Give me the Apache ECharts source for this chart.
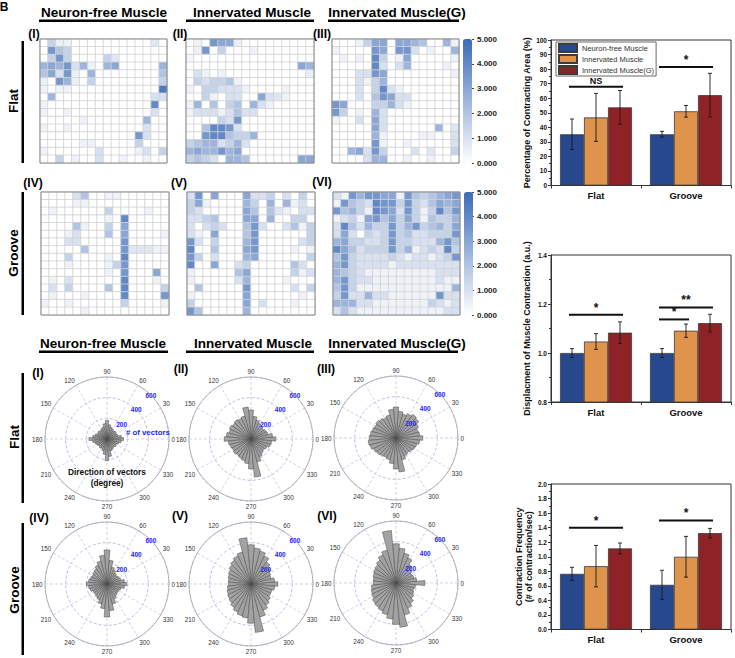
<!DOCTYPE html>
<html>
<head>
<meta charset="utf-8">
<script src="https://cdn.jsdelivr.net/npm/echarts@6/dist/echarts.min.js"></script>
<style>html,body{margin:0;padding:0;background:#fff}#main{width:735px;height:658px}</style>
</head>
<body>
<div id="main"></div>
<script>
// ---- heat maps: 16 x 16 contraction maps, row 0 is the top row ----
var heatFlatNF = [
  [0,1.5,0.5,0.4,0,0,0,0,0,0,0,0,0,0,0.8,0],
  [0,3.5,2,1.5,0,0,0,0,0,0,0,0,0,0,0,0],
  [0,1.5,3.5,1.5,0,0,0,0,1.5,0.8,0,0,0,0,0,0],
  [2.5,3,2.5,3.5,1,2.5,0.4,0,2.5,3,0,0,0,0,0,2.5],
  [2,3,1,3.5,0.5,0,2.5,0,0,0,0,0,0,0,0,2],
  [0.5,0,3.5,2.5,0.5,0,1.5,0,0,0,0,0,0,0,0,1.5],
  [0.4,0,0.4,0.4,0,0,0,0,0,0,0,0,0,0,0,4.5],
  [0,2.5,0,0,0,0,0,0,0,0,0,0,0,0,1,1],
  [0.4,0,0,0,0,0,0,0,0,0,0,0,0,0,4,0],
  [0.4,0,0,0.4,0,0,0,0,0,0,0,0,0,0,1,0],
  [0,0,0,0,0,0.4,0,0,0,0,0,0,0,2.5,0,0],
  [0.4,0,0,0.4,0,0,0,0,0,0,0,0,0,1,0,0],
  [0,0,0,0,0,0,0,0,0,0,0,0,3.5,1,0,0],
  [0,0,0,0,0,0.4,0.4,0,0,0,0,0,1.5,0,0,0],
  [0.4,0,0,0,0,0,0,1,0,0,0,0,0.4,1,0,1.5],
  [0,0,1.5,0,0.4,0,0,1,0,0,0.4,0,0,0.4,0,0]
];
var heatFlatIn = [
  [0,0.4,0,3.5,3,3,0.5,0,0,0,0,0,0,0,0,0],
  [0,0.4,3.5,0,1.5,0,0,0,0.4,0,0,0,0,0,0,0],
  [0.3,0,0,0,0,0,0,0,0,0,0,0,0,0,0,0],
  [0,0,0,0,0,0,0,0,0,0,0,0,0,0,3,2.5],
  [0,1,0.4,0,0.4,0,0,0,0,0,0,0,0,0,0,0.5],
  [0,1.5,1,1.5,1.5,2,0.4,0,0,0,0,0,0,0,0,0],
  [0.4,0,1.5,1.5,1,1,1,0.4,0,0,0,0,0.4,0,0,0],
  [0,0,1.5,0.4,0,1,1,0,0,3,1,0.8,0.4,0,0,0],
  [0.4,2.5,0,2,0,1.5,2,0,2.5,1,0.4,0,0,0,0,0],
  [0.4,1,1,1,0.4,1,2,1,1,0,0,0,0,0,0,0],
  [0,0,0,0,1.5,1,3.5,0,0,0,0,0,0,0,0,0],
  [0,0,2,4,4,3.5,1,0,0,0,0,0,0,0,0,0],
  [0,0,3.5,4,4,2,1.5,1.5,2.5,0,0,0,0,0,0,0],
  [1.5,2,2.5,2.5,1,1.5,2.5,1,0,0,0,0,0,0,0,0],
  [2.5,3,2.5,2.5,3.5,2.5,3,0,0,0,0,0,0,0,0,0],
  [1.5,2,1.5,1,0,2.5,2.5,2,0,0,0,0,0,0,3,3]
];
var heatFlatInG = [
  [0,0,0,0.4,1.5,3,3,0,3,3,2.5,2,0,0,2.5,0.4],
  [0.4,0,0,0,0,3.5,3,0,3.5,3.5,1,0,0.4,0,0,2.5],
  [0,0.4,0,0.4,0,4,1.5,0,0.4,3,0,0,0,0,0,0.4],
  [0,0,0,0,0,4,1,0,1,2.5,0,0,0,0,0.4,0],
  [0,0,0,1,1,3.5,3,0,0,0,0,0,0,0,0,0.4],
  [0,0,0,1,0.4,1.5,2.5,0,0,0,0,0,0,0,0,0],
  [0,0,0,1,0,1.5,4,1,0.4,0,0,0,0,0,0,0],
  [0,0,0,1,0,2,3.5,3,1,1,0,0,0,0,0,0],
  [3.5,3,0,0,0,1.5,1.5,2.5,1,0.4,0,0,0,0,0,0],
  [3.5,1.5,0,0.4,0,2.5,1,0,0,0,0,0,0,0,0,0],
  [0.4,0,0,1,0,3,1,0,0,0,0,0,0,0,0,0],
  [0,0,0,0,0,3,1,0,0,0,0,0,0,2.5,0,0.8],
  [0,0,0,0,0,2.5,0.4,0,0,0,0,0.4,0.4,0,0,1],
  [0,0,0,0,0,3.5,0.4,0,0,0.4,0,0,0,0,0,1],
  [0,0,2.5,3,1,3.5,1.5,0,0,0,1,0,0.8,0,0,1.5],
  [0,0,0,0,1,2.5,2.5,0,0,0.4,0,0,0.4,0,0,0]
];
var heatGrooveNF = [
  [0,0,0,0,1,2,0,0,0.4,0.4,0,0,0,0,0,0],
  [0,0,0,0,0.4,0.4,0,0,0,0,0,0,0,0,0,0],
  [0,0.4,0,0,0,0,0,0,1.5,0,0,0,0,0.4,0,0],
  [0,0,0,0,0,0,0,0,0.4,0,4,0,0,0,0,0],
  [0,0,0,0,2,0.4,0,0,1.5,0,3,0,0,0,0,0],
  [0,0,0,0.4,1,0,0,0,2,0,3,0,0,0,0,0.4],
  [0,0,0,1,1,0,0,0,0,0,3.5,0,0,0,0,0],
  [0,0,0,0,0,2,0,0,0,0,3.5,0.8,0.8,0.8,0.4,0.4],
  [0,0,0,1.5,0,0,0,0,0.4,0,4,0,0,0,0,0],
  [0,0,0,0.4,0,0,0,0,0.4,1.5,3.5,0,0,0,0,0],
  [0,0,0,0,0,0,0,0,0.4,0,3.5,0,0,0,3,0],
  [0,0.4,0,1,0,0,0,0,0,0,4,0,0,0,0.4,0],
  [0,1,0,1.5,0,0,0,0,2,0,4,0,0,0,0,1.5],
  [0,0.4,0,0,0,0.4,0,0,0,0,4,0,0,0,0,3.5],
  [0.4,0,0,0.4,0,0,0,0,0,0,1.5,0,0,0,0,0.4],
  [0,0,0,0,0,0.4,0,0,0,0,0,0,0,0,0,0]
];
var heatGrooveIn = [
  [1,3.5,0,3,0,0,0,3,1,1,1.5,0,1,0,1.5,0],
  [1.5,3,0.4,0,0,0,0,2.5,1.5,0,2.5,0,2.5,0.4,1,0],
  [1.5,1,0,0,0,0,0,3,2,0,2,0.8,0.4,0,1,1],
  [1,1,1.5,2,0,0,0,3,3,0,2.5,0,0,1.5,1.5,0],
  [1,0,1,1.5,1,0,0,2,3.5,1,0,0,1,2,0.4,1.5],
  [1,0.4,0,3,0,0,0,2,3.5,0,0,0,0,0,0,1.5],
  [3.5,1,0,1.5,0,0,0,2.5,3.5,0,0,0,0,0,1,1.5],
  [4,0,0,2,0,0,0,3,3.5,0,0,0,0,0.4,0,0.4],
  [3.5,1.5,0,1,0,0,0,2.5,3,0,0,0,0,0,0,1.5],
  [4,0,0,3,0,0,1,1.5,0,0,0,0,0,2,1,0],
  [0.4,0,0,0,0,0,2,3,0,0,0,0,0,1.5,0.4,1],
  [0.4,0,0,0,0,0,1,2.5,0,0,0,0,0.4,0,0,0],
  [0,2,0,0,0,0,0,3.5,0,0,0,0,0,1,0,1.5],
  [0.4,0,0,0,0,0,0,3,0,0,0,0,0,0,0.4,0],
  [1.5,0,0,0,0,0,0,3,0,1,0,0,0,0.4,0,0],
  [3.5,2,0,0,0,0,0,2.5,0,0,0,0,0,0,0,0]
];
var heatGrooveInG = [
  [1,0.4,3.5,2.5,3.5,3.5,3,3,0.4,3.5,2,1.5,2,2.5,3,3.5],
  [0.4,3.5,2,1.5,1,4,3.5,3.5,1.5,3.5,1.5,1,2,3,2.5,3],
  [3.5,2,2.5,1.5,0.4,4,3.5,3,1,3.5,1.5,0.4,1.5,4,2,3.5],
  [0.4,1,1.5,0.4,3,3.5,2,3,1.5,3,1.5,0.4,2,1.5,1.5,2.5],
  [1,4,2,1,2.5,1.5,1.5,3.5,1.5,2.5,3.5,1.5,2,2.5,1.5,3],
  [1,3,1,0,1.5,1,1.5,3.5,1.5,2,1,1,1.5,1.5,1.5,3.5],
  [2.5,3,1.5,1.5,1,1,1.5,3.5,1.5,1.5,1,1,1,2.5,3.5,2],
  [4,3,2,1,1.5,1.5,1.5,3.5,1.5,2.5,0.4,1,1.5,1,4,1.5],
  [2,3.5,1.5,1,1,1,1,1.5,1,0.4,1,1,0.4,1,1.5,3.5],
  [2.5,3.5,1.5,1,1,1,1,0.4,1,1,1,1,1,1,1,1],
  [2.5,2,1.5,1,0.4,0.4,0.4,0.4,0.4,0.4,0.4,0.4,0.4,1,1,1],
  [2.5,3.5,1.5,1,1,0.4,0.4,0.4,0.4,0.4,0.4,0.4,0.4,1,0.4,0.4],
  [2,3.5,1.5,0.4,0.4,0.4,0.4,0.4,0.4,0.4,0.4,0.4,0.4,0.4,0.4,2.5],
  [1.5,3.5,1,1,2.5,1,1,0.4,0.4,0.4,0.4,0.4,0.4,3.5,1,1],
  [2.5,2.5,2.5,1,1,0.4,0.4,0.4,0.4,0.4,0.4,0.4,1.5,1,0.4,1],
  [1,2,1,0.4,0.4,0.4,0.4,0.4,0.4,0.4,0.4,0.4,0.4,0.4,1,1]
];
var heatCells = ['0','1','2','3','4','5','6','7','8','9','10','11','12','13','14','15'];
var colorbarTicks = [0, 1, 2, 3, 4, 5];

// ---- rose plots: # of vectors per 10 degree bin ----
var roseBins = [0,10,20,30,40,50,60,70,80,90,100,110,120,130,140,150,160,170,
  180,190,200,210,220,230,240,250,260,270,280,290,300,310,320,330,340,350];
var roseFlatNF = [160,140,110,100,110,100,110,120,140,180,150,120,110,100,110,100,120,140,
  175,140,120,110,100,110,100,120,150,210,170,120,110,100,110,100,120,140];
var roseFlatIn = [240,210,170,160,150,160,170,190,220,280,310,230,220,230,220,230,220,240,
  260,220,210,200,210,200,210,220,240,290,370,230,190,170,160,170,190,200];
var roseFlatInG = [260,230,220,240,270,280,260,240,260,300,280,230,220,230,240,230,240,250,
  260,270,260,240,230,220,210,220,250,300,330,220,190,180,190,200,210,230];
var roseGrooveNF = [190,170,140,130,120,130,150,170,230,330,280,230,200,180,170,160,170,180,
  200,180,170,150,150,160,170,200,240,320,260,200,160,140,130,130,140,170];
var roseGrooveIn = [260,230,200,210,230,260,300,330,350,380,450,320,300,280,260,240,230,220,
  220,230,240,250,260,280,300,320,330,380,470,330,280,250,230,210,210,230];
var roseGrooveInG = [280,200,180,170,190,220,270,300,340,380,510,330,300,270,250,240,230,220,
  220,240,250,260,280,290,300,320,350,400,430,320,270,240,210,190,180,190];
var roseRings = [200, 400, 600];

// ---- bar charts: [series][group] ----
var groups = ['Flat', 'Groove'];
var seriesNames = ['Neuron-free Muscle', 'Innervated Muscle', 'Innervated Muscle(G)'];
var areaMean = [[35.2, 35.2], [46.8, 51.0], [53.7, 62.1]];
var areaErr  = [[10.5, 2.0], [16.5, 4.0], [11.6, 15.0]];
var dispMean = [[1.0, 1.0], [1.047, 1.091], [1.083, 1.122]];
var dispErr  = [[0.018, 0.018], [0.032, 0.027], [0.044, 0.036]];
var freqMean = [[0.765, 0.614], [0.871, 1.0], [1.114, 1.325]];
var freqErr  = [[0.09, 0.2], [0.285, 0.28], [0.075, 0.065]];
// significance: [group, height, fromSeries, toSeries, label]
var areaSig = [[0, 67.8, 0, 2, 'NS'], [1, 81.5, 0, 2, '*']];
var dispSig = [[0, 1.156, 0, 2, '*'], [1, 1.137, 0, 1, '*'], [1, 1.186, 0, 2, '**']];
var freqSig = [[0, 1.40, 0, 2, '*'], [1, 1.50, 0, 2, '*']];

// ---- layout ----
var FONT = '"Liberation Sans", Arial, Helvetica, sans-serif';
var barColors = ['#27488c', '#df934b', '#8e2226'];
var BAR_W = 24;
var heatBoxes = [[40,39,127,124],[186,39,128,124],[332,39,127,124],
                 [41,192,128,123],[187,192,128,123],[333,192,127,123]];
var roseCenters = [[107,439],[251,439],[396,438],[107,584],[251,584],[396,583]];
var ROSE_R = 62;

var grids = [], xAxes = [], yAxes = [], series = [];
var polar = [], angleAxis = [], radiusAxis = [];

// heat maps
[heatFlatNF, heatFlatIn, heatFlatInG, heatGrooveNF, heatGrooveIn, heatGrooveInG].forEach(function (m, i) {
  var b = heatBoxes[i];
  grids.push({left: b[0], top: b[1], width: b[2], height: b[3], show: true,
    borderColor: '#8a8a8a', borderWidth: 1, z: 5});
  xAxes.push({gridIndex: i, type: 'category', data: heatCells, show: false});
  yAxes.push({gridIndex: i, type: 'category', data: heatCells, inverse: true, show: false});
  var d = [];
  for (var r = 0; r < 16; r++) for (var c = 0; c < 16; c++) d.push([c, r, m[r][c]]);
  series.push({type: 'heatmap', xAxisIndex: i, yAxisIndex: i, data: d, silent: true,
    itemStyle: {borderColor: '#d2d2d2', borderWidth: 0.8}, emphasis: {disabled: true}});
});

// colour bar scales
[39, 192].forEach(function (top, j) {
  var gi = grids.length;
  grids.push({left: 472, top: top, width: 1, height: j ? 123 : 124});
  xAxes.push({gridIndex: gi, type: 'value', show: false, min: 0, max: 1});
  yAxes.push({gridIndex: gi, type: 'value', position: 'right', min: colorbarTicks[0],
    max: colorbarTicks[colorbarTicks.length - 1], interval: 1,
    axisLine: {show: false}, splitLine: {show: false},
    axisTick: {show: true, length: 2, lineStyle: {color: '#444'}},
    axisLabel: {fontSize: 8, fontWeight: 'bold', color: '#222', margin: 4,
      formatter: function (v) { return v.toFixed(3); }}});
});

// bar charts
function errRender(k) {
  return function (params, api) {
    var cat = api.value(0), m = api.value(1), e = api.value(2);
    var x = api.coord([cat, m])[0] + (k - 1) * BAR_W;
    var t = api.coord([cat, m + e])[1], b = api.coord([cat, m - e])[1];
    var s = {stroke: '#1a1a1a', lineWidth: 0.9};
    return {type: 'group', children: [
      {type: 'line', shape: {x1: x, y1: t, x2: x, y2: b}, style: s},
      {type: 'line', shape: {x1: x - 2, y1: t, x2: x + 2, y2: t}, style: s},
      {type: 'line', shape: {x1: x - 2, y1: b, x2: x + 2, y2: b}, style: s}
    ]};
  };
}
function sigRender(sig) {
  return function (params, api) {
    var s = sig[params.dataIndex];
    var c = api.coord([s[0], s[1]]);
    var x1 = c[0] + (s[2] - 1) * BAR_W - 3, x2 = c[0] + (s[3] - 1) * BAR_W + 3;
    return {type: 'group', children: [
      {type: 'line', shape: {x1: x1, y1: c[1], x2: x2, y2: c[1]}, style: {stroke: '#111', lineWidth: 2}},
      {type: 'text', x: (x1 + x2) / 2, y: c[1] - 1,
        style: {text: s[4], fill: '#111', align: 'center', verticalAlign: 'bottom',
          font: 'bold ' + (s[4] === 'NS' ? 9 : 12) + 'px ' + FONT}}
    ]};
  };
}
var barCharts = [
  {mean: areaMean, err: areaErr, sig: areaSig, min: 0, max: 100, interval: 10, dec: 0,
   name: 'Percentage of Contracting Area (%)', top: 40, height: 145.5, gap: 19},
  {mean: dispMean, err: dispErr, sig: dispSig, min: 0.8, max: 1.4, interval: 0.2, dec: 1,
   name: 'Displacment of Muscle Contraction (a.u.)', top: 255, height: 147, gap: 19},
  {mean: freqMean, err: freqErr, sig: freqSig, min: 0, max: 2, interval: 0.2, dec: 1,
   name: 'Contraction Frequency\n(# of contraction/sec)', top: 484, height: 145.5, gap: 17}
];
barCharts.forEach(function (bc) {
  var gi = grids.length;
  grids.push({left: 551, top: bc.top, width: 180, height: bc.height, show: true,
    borderColor: '#333', borderWidth: 1});
  xAxes.push({gridIndex: gi, type: 'category', data: groups,
    axisLine: {lineStyle: {color: '#333'}},
    axisTick: {show: true, length: 3, lineStyle: {color: '#333'}},
    axisLabel: {fontSize: 9.5, fontWeight: 'bold', color: '#111', margin: 5}});
  yAxes.push({gridIndex: gi, type: 'value', min: bc.min, max: bc.max, interval: bc.interval,
    name: bc.name, nameLocation: 'middle', nameGap: bc.gap,
    nameTextStyle: {fontSize: 9, fontWeight: 'bold', color: '#111', lineHeight: 10},
    axisLine: {show: true, lineStyle: {color: '#333'}},
    axisTick: {show: true, length: 3, lineStyle: {color: '#333'}},
    minorTick: {show: true, splitNumber: 2, length: 2, lineStyle: {color: '#333'}},
    splitLine: {show: false},
    axisLabel: {fontSize: 6.5, fontWeight: 'bold', color: '#111', margin: 4,
      formatter: function (v) { return v.toFixed(bc.dec); }}});
  for (var k = 0; k < 3; k++) {
    series.push({type: 'bar', name: seriesNames[k], xAxisIndex: gi, yAxisIndex: gi,
      data: bc.mean[k], barWidth: BAR_W, barGap: '0%', silent: true,
      itemStyle: {color: barColors[k], borderColor: '#3c3c3c', borderWidth: 0.8}});
  }
  for (k = 0; k < 3; k++) {
    series.push({type: 'custom', xAxisIndex: gi, yAxisIndex: gi, z: 5, silent: true,
      renderItem: errRender(k),
      data: groups.map(function (g, i) { return [i, bc.mean[k][i], bc.err[k][i]]; })});
  }
  series.push({type: 'custom', xAxisIndex: gi, yAxisIndex: gi, z: 5, silent: true,
    renderItem: sigRender(bc.sig),
    data: bc.sig.map(function (s) { return [s[0], s[1]]; })});
});

// rose plots: a grid polar, a polar for the radius labels at 45 degrees, and a bar polar
[roseFlatNF, roseFlatIn, roseFlatInG, roseGrooveNF, roseGrooveIn, roseGrooveInG].forEach(function (vals, i) {
  var c = roseCenters[i], p = 3 * i;
  var rMax = roseRings[roseRings.length - 1];
  polar.push({center: c, radius: ROSE_R}, {center: c, radius: ROSE_R}, {center: c, radius: ROSE_R});
  angleAxis.push({polarIndex: p, type: 'value', min: 0, max: 360, interval: 30, startAngle: 0,
    clockwise: false,
    axisLine: {lineStyle: {color: '#b4b4bc', width: 1}}, axisTick: {show: false},
    axisLabel: {fontSize: 6.3, color: '#333', margin: 2.5},
    splitLine: {show: true, lineStyle: {color: '#c8c8d6', type: [3, 2], width: 0.8}}});
  radiusAxis.push({polarIndex: p, type: 'value', min: 0, max: rMax, interval: 200,
    axisLine: {show: false}, axisTick: {show: false}, axisLabel: {show: false},
    splitLine: {show: true, lineStyle: {color: '#a8ace6', type: [3, 2], width: 0.8}}});
  angleAxis.push({polarIndex: p + 1, type: 'value', min: 0, max: 360, startAngle: 45,
    clockwise: false, show: false});
  radiusAxis.push({polarIndex: p + 1, type: 'value', min: 0, max: rMax, interval: 200, z: 10,
    axisLine: {show: false}, axisTick: {show: false}, splitLine: {show: false},
    axisLabel: {color: '#2323ff', fontSize: 6.5, fontWeight: 'bold', margin: 0,
      align: 'center', verticalAlign: 'middle',
      formatter: function (v) { return v ? String(v) : ''; }}});
  angleAxis.push({polarIndex: p + 2, type: 'category', data: roseBins, startAngle: -5,
    clockwise: false, show: false});
  radiusAxis.push({polarIndex: p + 2, type: 'value', min: 0, max: rMax, show: false});
  series.push({type: 'bar', coordinateSystem: 'polar', polarIndex: p + 2, data: vals,
    barCategoryGap: '0%', silent: true, z: 3,
    itemStyle: {color: '#a2a2a2', borderColor: '#4a4a4a', borderWidth: 0.5}});
});

// ---- text and rules ----
var G = [];
function T(s, x, y, font, fill, extra) {
  var o = {type: 'text', x: x, y: y, silent: true, z: 20,
    style: {text: s, font: font + ' ' + FONT, fill: fill || '#000', align: 'center', verticalAlign: 'middle'}};
  if (extra) for (var key in extra) o[key] = extra[key];
  return G.push(o);
}
function R(x, y, w, h) {
  G.push({type: 'rect', silent: true, z: 20, shape: {x: x, y: y, width: w, height: h}, style: {fill: '#000'}});
}
T('B', 4, 7, 'bold 12px');
[['Neuron-free Muscle', 104, 39, 167], ['Innervated Muscle', 252, 186, 314],
 ['Innervated Muscle(G)', 397, 328, 459]].forEach(function (t) {
  T(t[0], t[1], 12, 'bold 13.5px'); R(t[2], 19.5, t[3] - t[2], 2.5);
});
[['Neuron-free Muscle', 103, 39, 168], ['Innervated Muscle', 253, 186, 314],
 ['Innervated Muscle(G)', 397, 329, 458]].forEach(function (t) {
  T(t[0], t[1], 343, 'bold 13.5px'); R(t[2], 350.5, t[3] - t[2], 2.5);
});
[['(I)', 34, 34], ['(II)', 180, 34], ['(III)', 322, 34], ['(IV)', 33, 183], ['(V)', 179, 183], ['(VI)', 322, 182],
 ['(I)', 38, 373], ['(II)', 181, 369], ['(III)', 326, 369], ['(IV)', 39, 518], ['(V)', 180, 516], ['(VI)', 327, 516]
].forEach(function (t) { T(t[0], t[1], t[2], 'bold 12px'); });
[['Flat', 13, 101, 41, 163], ['Groove', 13, 253, 192, 315],
 ['Flat', 14, 437, 373, 503], ['Groove', 14, 590, 523, 655]].forEach(function (t) {
  T(t[0], t[1], t[2], 'bold 13.5px', '#000', {rotation: Math.PI / 2});
  R(21.5, t[3], 2.5, t[4] - t[3]);
});
G.push({type: 'text', x: 126, y: 432, silent: true, z: 20,
  style: {text: '# of vectors', font: 'bold 7.8px ' + FONT, fill: '#2323ff', align: 'left', verticalAlign: 'middle'}});
T('Direction of vectors', 107, 472, 'bold 8.3px', '#111');
T('(degree)', 107, 483, 'bold 8.3px', '#111');

var chart = echarts.init(document.getElementById('main'), null, {renderer: 'svg'});
chart.setOption({
  animation: false,
  backgroundColor: '#fff',
  textStyle: {fontFamily: FONT},
  grid: grids, xAxis: xAxes, yAxis: yAxes,
  polar: polar, angleAxis: angleAxis, radiusAxis: radiusAxis,
  visualMap: [
    {type: 'continuous', min: 0, max: 5, seriesIndex: [0, 1, 2], left: 463, top: 39, padding: 0,
     itemWidth: 9, itemHeight: 124, calculable: false, hoverLink: false,
     inRange: {color: ['#ffffff', '#3b6bb9']}},
    {type: 'continuous', min: 0, max: 5, seriesIndex: [3, 4, 5], left: 464, top: 192, padding: 0,
     itemWidth: 9, itemHeight: 123, calculable: false, hoverLink: false,
     inRange: {color: ['#ffffff', '#3b6bb9']}}
  ],
  legend: {data: seriesNames, left: 556, top: 42, orient: 'vertical', selectedMode: false,
    itemWidth: 18, itemHeight: 8, itemGap: 1, padding: [1, 2], icon: 'rect',
    borderColor: '#444', borderWidth: 0.8, backgroundColor: '#fff', z: 10,
    textStyle: {fontSize: 7.5, color: '#333'}},
  graphic: G,
  series: series
});
</script>
</body>
</html>
